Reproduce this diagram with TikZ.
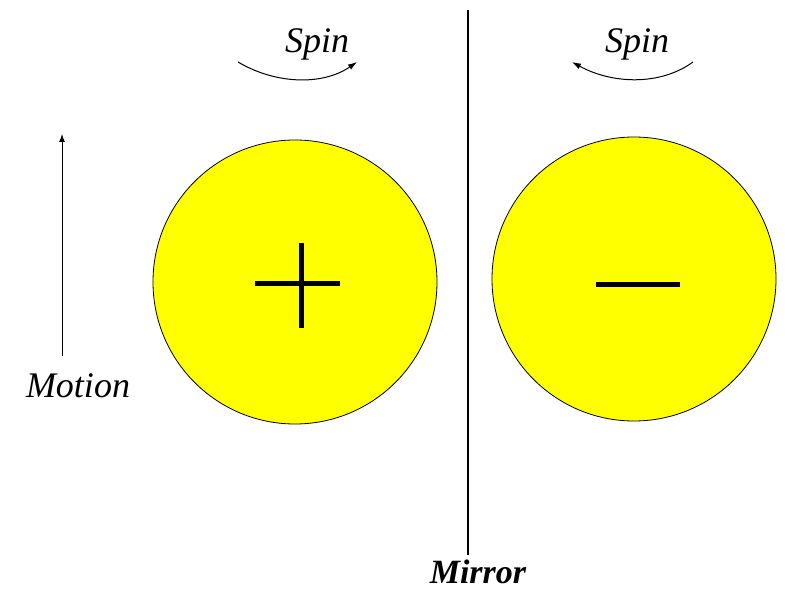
\documentclass[tikz,border=0pt]{standalone}
\usepackage{tikz}
\usepackage{xcolor}
\usepackage{fontspec}
\setmainfont{Liberation Serif}
\usetikzlibrary{arrows.meta,calc,positioning}
\definecolor{BallCol}{RGB}{255,255,0}
\definecolor{RuleCol}{RGB}{0,0,0}
\tikzset{
  mrball/.style={circle, fill=BallCol, draw=RuleCol, line width=0.8pt, minimum size=284pt, inner sep=0pt},
  mrsign/.style={line width=5pt, draw=RuleCol},
  mrarrow/.style={-{Latex[length=8pt,width=6pt]}, line width=1pt, draw=RuleCol},
  mrspin/.style={-{Latex[length=9pt,width=6pt]}, line width=1pt, draw=RuleCol},
  mrmirror/.style={line width=1.3pt, draw=RuleCol},
  mrlab/.style={font=\fontsize{36}{38}\selectfont\itshape, inner sep=0pt},
  mrbold/.style={font=\fontsize{34}{36}\selectfont\bfseries\itshape, inner sep=0pt}
}

\begin{document}
\begin{tikzpicture}[x=1pt,y=-1pt]
  \useasboundingbox (0,0) rectangle (785,591);
  % the two spinning balls
  \node[mrball] (plus) at (295,282) {};
  \node[mrball] (minus) at (634,279) {};
  \draw[mrsign] ($(plus)+(-40,1)$) -- ($(plus)+(45,1)$);
  \draw[mrsign] ($(plus)+(6,-39)$) -- ($(plus)+(6,46)$);
  \draw[mrsign] ($(minus)+(-38,5)$) -- ($(minus)+(46,5)$);
  % spin arrows and labels
  \node[mrlab] (spinL) at (317,44) {Spin};
  \node[mrlab] (spinR) at (637,44) {Spin};
  \coordinate (sLa) at (238,62);
  \coordinate (sLb) at (357,62);
  \coordinate (sRa) at (693,62);
  \coordinate (sRb) at (572,62);
  \draw[mrspin] (sLa) .. controls (275,84) and (322,86) .. (sLb);
  \draw[mrspin] (sRa) .. controls (660,86) and (612,84) .. (sRb);
  % motion
  \node[mrlab] (motion) at (78,386) {Motion};
  \coordinate (mtop) at (62,134);
  \draw[mrarrow] ($(motion.north)+(-16,-18)$) -- (mtop);
  % mirror
  \node[mrbold] (mirror) at (478,572) {Mirror};
  \coordinate (mrtop) at (468,10);
  \draw[mrmirror] (mrtop) -- ($(mrtop)+(0,545)$);
\end{tikzpicture}
\end{document}
